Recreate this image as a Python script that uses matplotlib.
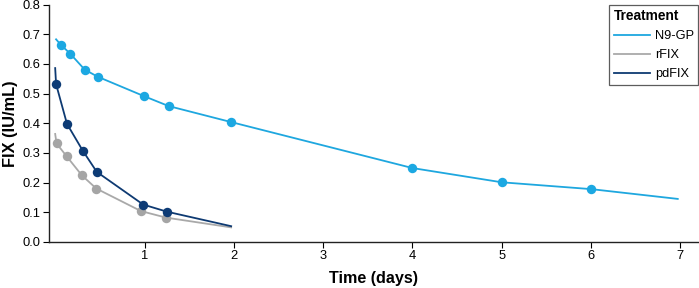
import matplotlib
matplotlib.use("Agg")
import matplotlib.pyplot as plt
from matplotlib.lines import Line2D

plt.rcParams["font.family"] = ["Liberation Sans", "DejaVu Sans"]

# measured points (days, IU/mL)
n9gp_t = [0.065, 0.17, 0.33, 0.475, 0.99, 1.27, 1.97, 4.0, 5.0, 6.0]
n9gp_v = [0.664, 0.634, 0.581, 0.557, 0.492, 0.458, 0.404, 0.249, 0.201, 0.178]
rfix_t = [0.015, 0.13, 0.30, 0.46, 0.96, 1.24]
rfix_v = [0.332, 0.288, 0.224, 0.180, 0.104, 0.082]
pdfix_t = [0.01, 0.132, 0.31, 0.466, 0.985, 1.25]
pdfix_v = [0.532, 0.398, 0.307, 0.236, 0.126, 0.102]

# curve start / end values
n9gp_start, n9gp_end = (0.01, 0.683), (6.97, 0.145)
rfix_start, rfix_end = (0.0, 0.364), (1.97, 0.049)
pdfix_start, pdfix_end = (0.0, 0.586), (1.97, 0.053)

series = [
    ("N9-GP", n9gp_t, n9gp_v, n9gp_start, n9gp_end, "#1ea7df", "#1ca8e2"),
    ("rFIX", rfix_t, rfix_v, rfix_start, rfix_end, "#a9a9a9", "#a5a5a5"),
    ("pdFIX", pdfix_t, pdfix_v, pdfix_start, pdfix_end, "#0e3a72", "#0d3b75"),
]

fig = plt.figure(figsize=(6.99, 2.88), dpi=100)
ax = fig.add_axes([0.070, 0.160, 0.929, 0.824])

handles = []
for name, t, v, start, end, lc, mc in series:
    lt = [start[0]] + t + [end[0]]
    lv = [start[1]] + v + [end[1]]
    ax.plot(lt, lv, color=lc, lw=1.3, zorder=2)
    ax.plot(t, v, "o", color=mc, ms=6.8, mec="none", zorder=3)
    handles.append(Line2D([], [], color=lc, lw=1.3, label=name))

ax.set_xlim(-0.07, 7.2)
ax.set_ylim(0, 0.8)
ax.set_xticks(range(1, 8))
ax.set_yticks([i / 10 for i in range(9)])
ax.set_yticklabels([f"{i / 10:.1f}" for i in range(9)])
ax.tick_params(labelsize=9.3, length=4, width=0.8, direction="out", pad=2)

for s in ("top", "right"):
    ax.spines[s].set_visible(False)
for s in ("left", "bottom"):
    ax.spines[s].set_linewidth(1.0)
    ax.spines[s].set_color("#222222")

ax.set_xlabel("Time (days)", fontsize=11.6, fontweight="bold", labelpad=6)
ax.set_ylabel("FIX (IU/mL)", fontsize=11.8, fontweight="bold", labelpad=3)

leg = ax.legend(handles=handles, title="Treatment", loc="upper right",
                bbox_to_anchor=(1.0, 1.0), borderaxespad=0,
                fontsize=9.2, title_fontsize=9.9,
                frameon=True, fancybox=False, edgecolor="#333333",
                handlelength=2.8, handletextpad=0.4, borderpad=0.35,
                labelspacing=0.55, alignment="left")
leg.get_title().set_fontweight("bold")
leg.get_frame().set_linewidth(0.9)

fig.savefig("out.png", dpi=100)
